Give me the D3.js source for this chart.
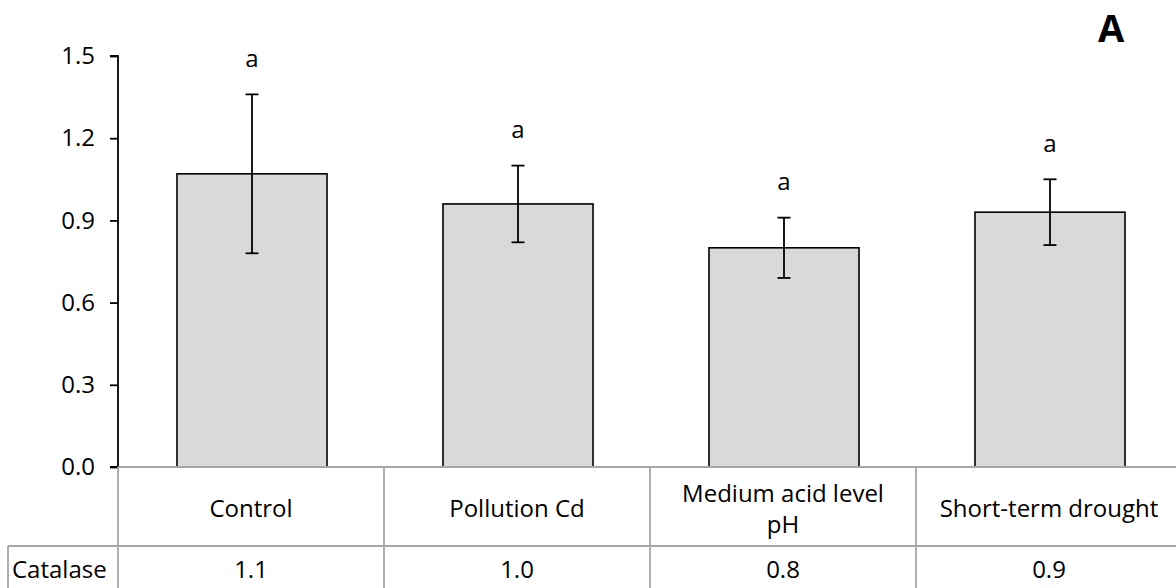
<!DOCTYPE html>
<html>
<head>
<meta charset="utf-8">
<script src="https://cdn.jsdelivr.net/npm/d3@7/dist/d3.min.js"></script>
<style>
  html, body { margin: 0; padding: 0; background: #fff; }
  svg { display: block; }
  text { font-family: "Open Sans", Lato, sans-serif; fill: #000; }
</style>
</head>
<body>
<svg id="chart" width="1176" height="588"></svg>
<script>
const categories = ["Control", "Pollution Cd", "Medium acid level\npH", "Short-term drought"];
const means = [1.07, 0.96, 0.80, 0.93];
const errors = [0.29, 0.14, 0.11, 0.12];
const letters = ["a", "a", "a", "a"];
const tableValues = ["1.1", "1.0", "0.8", "0.9"];
const seriesName = "Catalase";
const yTicks = [0, 0.3, 0.6, 0.9, 1.2, 1.5];
const panelLabel = "A";

const svg = d3.select("#chart");
const axisX = 118, right = 1182, y0 = 467, yTop = 56;
const rowSplit = 546, rowBottom = 620;
const FS = 24;

const x = d3.scaleBand().domain(d3.range(categories.length)).range([axisX, right]).padding(0);
const y = d3.scaleLinear().domain([0, 1.5]).range([y0, yTop]);
const barW = x.bandwidth() * 0.564;

// bars
svg.append("g").selectAll("rect").data(means).join("rect")
  .attr("x", (d, i) => x(i) + x.bandwidth() / 2 - barW / 2 + 1)
  .attr("y", d => y(d))
  .attr("width", barW)
  .attr("height", d => y(0) - y(d))
  .attr("fill", "#d9d9d9")
  .attr("stroke", "#000")
  .attr("stroke-width", 1.6);

// error bars
const eb = svg.append("g").attr("stroke", "#000").attr("stroke-width", 1.8);
means.forEach((m, i) => {
  const cx = x(i) + x.bandwidth() / 2 + 1;
  eb.append("line").attr("x1", cx).attr("x2", cx).attr("y1", y(m + errors[i])).attr("y2", y(m - errors[i]));
  [m + errors[i], m - errors[i]].forEach(v => {
    eb.append("line").attr("x1", cx - 6.5).attr("x2", cx + 6.5).attr("y1", y(v)).attr("y2", y(v));
  });
});

// letters
svg.append("g").selectAll("text").data(letters).join("text")
  .attr("x", (d, i) => x(i) + x.bandwidth() / 2 + 1)
  .attr("y", (d, i) => y(means[i] + errors[i]) - 37)
  .attr("text-anchor", "middle")
  .attr("dominant-baseline", "central")
  .attr("font-size", FS)
  .text(d => d);

// y axis
const yAxis = d3.axisLeft(y).tickValues(yTicks).tickFormat(d3.format(".1f")).tickSize(8).tickPadding(15);
const ga = svg.append("g").attr("transform", `translate(${axisX},0)`).call(yAxis);
ga.select(".domain").attr("stroke", "#000").attr("stroke-width", 1.8).attr("d", `M-8,${yTop}H0V${y0}H-8`);
ga.selectAll(".tick line").attr("stroke", "#000").attr("stroke-width", 1.8);
ga.selectAll(".tick text").attr("font-size", FS).attr("fill", "#000").style("font-family", "'Open Sans', Lato, sans-serif");

// table grid
const grid = svg.append("g").attr("stroke", "#a6a6a6").attr("stroke-width", 1.8).attr("fill", "none");
grid.append("line").attr("x1", axisX).attr("x2", right).attr("y1", y0).attr("y2", y0);
grid.append("line").attr("x1", 8).attr("x2", right).attr("y1", rowSplit).attr("y2", rowSplit);
grid.append("line").attr("x1", 8).attr("x2", 8).attr("y1", rowSplit).attr("y2", rowBottom);
d3.range(categories.length + 1).forEach(i => {
  const xx = i < categories.length ? x(i) : right;
  grid.append("line").attr("x1", xx).attr("x2", xx).attr("y1", y0).attr("y2", rowBottom);
});

// category labels
const cl = svg.append("g");
categories.forEach((c, i) => {
  const lines = c.split("\n");
  const cx = x(i) + x.bandwidth() / 2;
  const mid = (y0 + rowSplit) / 2 + 1;
  const lh = 31;
  lines.forEach((ln, j) => {
    cl.append("text")
      .attr("x", cx)
      .attr("y", mid + (j - (lines.length - 1) / 2) * lh)
      .attr("text-anchor", "middle")
      .attr("dominant-baseline", "central")
      .attr("font-size", FS)
      .text(ln);
  });
});

// value row
const rowY = 568;
svg.append("text").attr("x", 12).attr("y", rowY).attr("dominant-baseline", "central").attr("font-size", FS).text(seriesName);
svg.append("g").selectAll("text").data(tableValues).join("text")
  .attr("x", (d, i) => x(i) + x.bandwidth() / 2)
  .attr("y", rowY)
  .attr("text-anchor", "middle")
  .attr("dominant-baseline", "central")
  .attr("font-size", FS)
  .text(d => d);

// panel label
svg.append("text").attr("x", 1111).attr("y", 42).attr("text-anchor", "middle")
  .attr("font-size", 38).attr("font-weight", "bold").text(panelLabel);
</script>
</body>
</html>
